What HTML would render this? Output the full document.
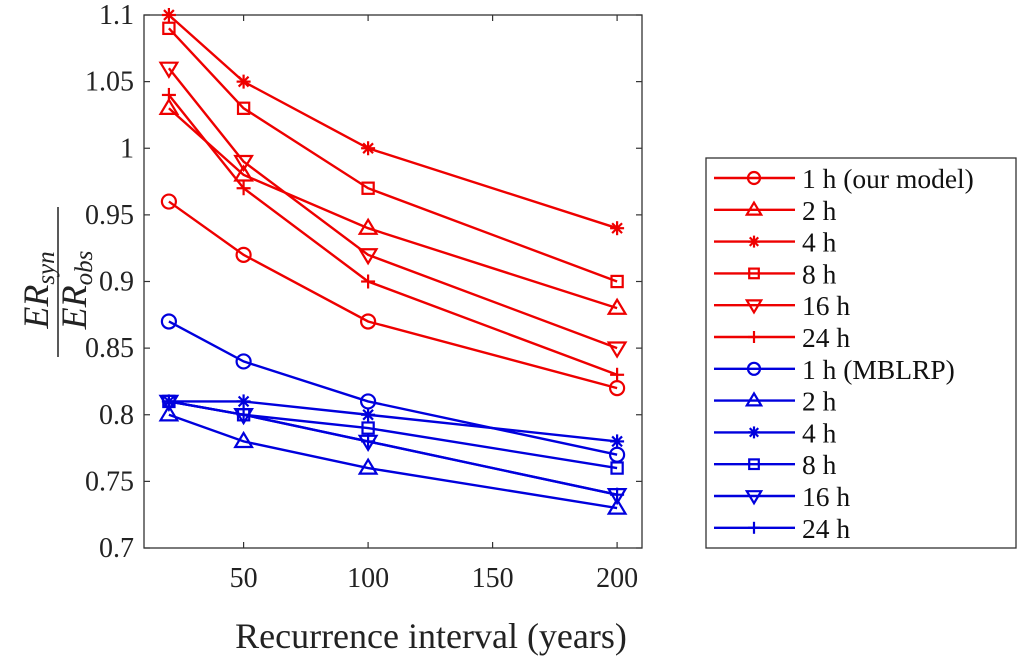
<!DOCTYPE html>
<html><head><meta charset="utf-8"><style>
body{margin:0;background:#fff;}
svg{display:block;font-family:"Liberation Serif",serif;}
</style></head><body>
<svg id="chart" width="1024" height="657">
<g id="plot"></g>
<g id="legend"></g>
<text x="431" y="648" font-size="36" text-anchor="middle" fill="#222">Recurrence interval (years)</text>
<g transform="translate(58,282) rotate(-90)">
<text x="-8" y="-10" font-size="36" font-style="italic" text-anchor="middle" fill="#222">ER<tspan font-size="25" dy="6">syn</tspan></text>
<line x1="-75" x2="75" y1="0" y2="0" stroke="#222" stroke-width="1.5"/>
<text x="-8" y="28" font-size="36" font-style="italic" text-anchor="middle" fill="#222">ER<tspan font-size="25" dy="6">obs</tspan></text>
</g>
</svg>
<script>
const xValues=[20,50,100,200];
const xTicks=[50,100,150,200];
const yTicks=[0.7,0.75,0.8,0.85,0.9,0.95,1,1.05,1.1];
const yTickLabels=["0.7","0.75","0.8","0.85","0.9","0.95","1","1.05","1.1"];
const seriesNames=["1 h  (our model)","2 h","4 h","8 h","16 h","24 h","1 h (MBLRP)","2 h","4 h","8 h","16 h","24 h"];
const seriesMarkers=["o","^","*","s","v","+","o","^","*","s","v","+"];
const seriesColors=["#e00","#e00","#e00","#e00","#e00","#e00","#00d","#00d","#00d","#00d","#00d","#00d"];
const red1h=[0.96,0.92,0.87,0.82];
const red2h=[1.03,0.98,0.94,0.88];
const red4h=[1.10,1.05,1.00,0.94];
const red8h=[1.09,1.03,0.97,0.90];
const red16h=[1.06,0.99,0.92,0.85];
const red24h=[1.04,0.97,0.90,0.83];
const blue1h=[0.87,0.84,0.81,0.77];
const blue2h=[0.80,0.78,0.76,0.73];
const blue4h=[0.81,0.81,0.80,0.78];
const blue8h=[0.81,0.80,0.79,0.76];
const blue16h=[0.81,0.80,0.78,0.74];
const blue24h=[0.81,0.80,0.78,0.74];
const seriesData=[red1h,red2h,red4h,red8h,red16h,red24h,blue1h,blue2h,blue4h,blue8h,blue16h,blue24h];

const L=144,R=642,T=15,B=548,XMIN=10,XMAX=210,YMIN=0.7,YMAX=1.1;
const sx=v=>L+(v-XMIN)/(XMAX-XMIN)*(R-L);
const sy=v=>B-(v-YMIN)/(YMAX-YMIN)*(B-T);
const NS="http://www.w3.org/2000/svg";
function mk(tag,attrs,parent){const e=document.createElementNS(NS,tag);for(const k in attrs)e.setAttribute(k,attrs[k]);parent.appendChild(e);return e;}
const plot=document.getElementById('plot');
const box=mk('rect',{x:L,y:T,width:R-L,height:B-T,fill:'none',stroke:'#333','stroke-width':1.3},plot);


xTicks.forEach(t=>{
  const x=sx(t);
  mk('line',{x1:x,x2:x,y1:B,y2:B-6,stroke:'#333','stroke-width':1.2},plot);
  mk('line',{x1:x,x2:x,y1:T,y2:T+6,stroke:'#333','stroke-width':1.2},plot);
  const tx=mk('text',{x:x,y:B+39,'font-size':28,'text-anchor':'middle',fill:'#222'},plot);
  tx.textContent=t;
  
  
});
yTicks.forEach((t,i)=>{
  const y=sy(t);
  mk('line',{x1:L,x2:L+6,y1:y,y2:y,stroke:'#333','stroke-width':1.2},plot);
  mk('line',{x1:R,x2:R-6,y1:y,y2:y,stroke:'#333','stroke-width':1.2},plot);
  const tx=mk('text',{x:L-10,y:y+9,'font-size':28,'text-anchor':'end',fill:'#222'},plot);
  tx.textContent=yTickLabels[i];
  
  
});
function marker(type,x,y,c,s,parent){
  const st={fill:'none',stroke:c,'stroke-width':2.2};
  if(type==='o')mk('circle',Object.assign({cx:x,cy:y,r:s},st),parent);
  else if(type==='s')mk('rect',Object.assign({x:x-s*0.8,y:y-s*0.8,width:s*1.6,height:s*1.6},st),parent);
  else if(type==='^')mk('polygon',Object.assign({points:`${x},${y-s*1.2} ${x-s*1.2},${y+s*0.8} ${x+s*1.2},${y+s*0.8}`},st),parent);
  else if(type==='v')mk('polygon',Object.assign({points:`${x},${y+s*1.2} ${x-s*1.2},${y-s*0.8} ${x+s*1.2},${y-s*0.8}`},st),parent);
  else if(type==='+'){mk('line',{x1:x-s,x2:x+s,y1:y,y2:y,stroke:c,'stroke-width':2.2},parent);mk('line',{x1:x,x2:x,y1:y-s,y2:y+s,stroke:c,'stroke-width':2.2},parent);}
  else if(type==='*'){for(let a=0;a<180;a+=45){const r=a*Math.PI/180;mk('line',{x1:x-s*Math.cos(r),x2:x+s*Math.cos(r),y1:y-s*Math.sin(r),y2:y+s*Math.sin(r),stroke:c,'stroke-width':2.2},parent);}}
}
seriesData.forEach((d,i)=>{
  const g=mk('g',{},plot);
  
  
  const pts=d.map((v,j)=>sx(xValues[j])+','+sy(v)).join(' ');
  mk('polyline',{points:pts,fill:'none',stroke:seriesColors[i],'stroke-width':2.4},g);
  d.forEach((v,j)=>marker(seriesMarkers[i],sx(xValues[j]),sy(v),seriesColors[i],7,g));
});
const leg=document.getElementById('legend');
mk('rect',{x:706,y:158,width:310,height:390,fill:'#fff',stroke:'#333','stroke-width':1.3},leg);
seriesNames.forEach((n,i)=>{
  const y=178+i*31.8;
  const g=mk('g',{},leg);
  
  
  mk('line',{x1:714,x2:795,y1:y,y2:y,stroke:seriesColors[i],'stroke-width':2.4},g);
  marker(seriesMarkers[i],754,y,seriesColors[i],6,g);
  const t=mk('text',{x:802,y:y+10,'font-size':27.5,fill:'#111'},g);
  t.textContent=n;
});
</script>
</body></html>
